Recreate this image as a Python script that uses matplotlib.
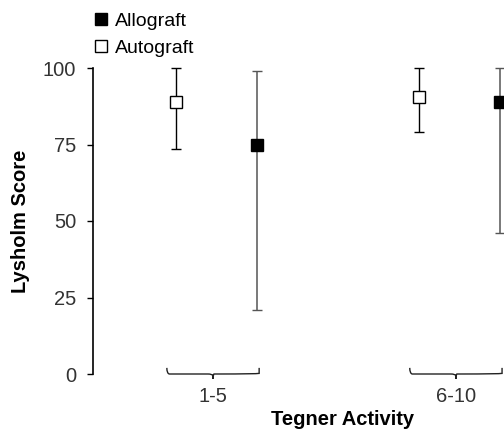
import matplotlib.pyplot as plt
from matplotlib.lines import Line2D
from matplotlib.path import Path
from matplotlib.patches import PathPatch

plt.rcParams['font.family'] = ['Liberation Sans', 'DejaVu Sans']

# Tegner activity groups
groups = ['1-5', '6-10']
group_pos = [1, 2]

# Lysholm score: mean, lower and upper end of the bars
auto_mean = [89, 90.5]
auto_low = [73.5, 79]
auto_high = [100, 100]

allo_mean = [75, 89]
allo_low = [21, 46]
allo_high = [99, 100]

fig = plt.figure(figsize=(5.04, 4.30), dpi=100)
ax = fig.add_axes([93 / 504, 56 / 430, 411 / 504, 306 / 430])

# autograft sits left of the group centre, allograft right
auto_x = [g - 0.152 for g in group_pos]
allo_x = [g + 0.181 for g in group_pos]

auto_err = [[m - lo for m, lo in zip(auto_mean, auto_low)],
            [hi - m for m, hi in zip(auto_mean, auto_high)]]
allo_err = [[m - lo for m, lo in zip(allo_mean, allo_low)],
            [hi - m for m, hi in zip(allo_mean, allo_high)]]

ax.errorbar(auto_x, auto_mean, yerr=auto_err, fmt='s', color='black',
            mfc='white', mec='black', ms=8.5, mew=1, ecolor='black',
            elinewidth=1, capsize=3.8, capthick=1, clip_on=False, zorder=3)
allo = ax.errorbar(allo_x, allo_mean, yerr=allo_err, fmt='s', color='black',
                   mfc='black', mec='black', ms=8.5, mew=1, ecolor='#555555',
                   elinewidth=1.1, capsize=3.8, capthick=1, clip_on=False, zorder=3)
for cap in allo[1]:
    cap.set_color('black')

ax.set_xlim(0.506, 2.198)
ax.set_ylim(0, 100)
ax.set_yticks([0, 25, 50, 75, 100])
ax.tick_params(axis='y', direction='out', length=4, width=1, labelsize=14.5,
               labelcolor='#333333', pad=8)

ax.set_xticks(group_pos)
ax.set_xticklabels(groups)
ax.tick_params(axis='x', length=0, labelsize=14.5, labelcolor='#333333', pad=9)

for s in ['top', 'right', 'bottom']:
    ax.spines[s].set_visible(False)
ax.spines['left'].set_linewidth(1.2)

# curly braces under each group
half = 0.19
for g in group_pos:
    verts = [(g - half, 2.0), (g - half, 0.2), (g - half + 0.01, 0.0), (g - 0.02, 0.0),
             (g - 0.004, 0.0), (g, -0.5), (g, -1.6),
             (g, -0.5), (g + 0.004, 0.0), (g + 0.02, 0.0),
             (g + half - 0.01, 0.0), (g + half, 0.2), (g + half, 2.0)]
    codes = [Path.MOVETO, Path.CURVE3, Path.CURVE3, Path.LINETO,
             Path.CURVE3, Path.CURVE3, Path.LINETO,
             Path.CURVE3, Path.CURVE3, Path.LINETO,
             Path.CURVE3, Path.CURVE3, Path.LINETO]
    ax.add_patch(PathPatch(Path(verts, codes), fill=False, lw=1, ec='#222222',
                           clip_on=False))

ax.set_ylabel('Lysholm Score', fontsize=14.5, fontweight='bold')
ax.yaxis.set_label_coords(-0.153, 0.5)
ax.set_xlabel('Tegner Activity', fontsize=14.5, fontweight='bold')
ax.xaxis.set_label_coords(0.608, -0.118)

handles = [Line2D([], [], ls='none', marker='s', ms=8, mfc='black', mec='black'),
           Line2D([], [], ls='none', marker='s', ms=8, mfc='white', mec='black')]
fig.legend(handles, ['Allograft', 'Autograft'], loc='upper left',
           bbox_to_anchor=(82 / 504, 1.0), frameon=False, fontsize=14,
           handlelength=0.7, handletextpad=0.35, labelspacing=0.45,
           borderpad=0.15)

fig.savefig('out.png', dpi=100)
